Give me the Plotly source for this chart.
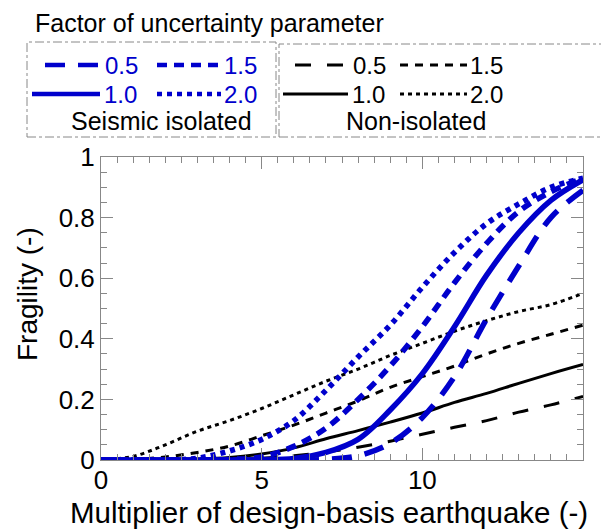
import plotly.graph_objects as go

# ---- data ----
x_vals = [0, 1, 2, 3, 4, 5, 6, 7, 8, 9, 10, 11, 12, 13, 14, 15]

iso_05 = [0, 0, 0, 0, 0, 0, 0.0, 0.002, 0.014, 0.055, 0.14, 0.275, 0.465, 0.64, 0.80, 0.89]
iso_10 = [0, 0, 0, 0, 0, 0.001, 0.005, 0.025, 0.068, 0.165, 0.285, 0.44, 0.61, 0.75, 0.857, 0.925]
iso_15 = [0, 0, 0, 0, 0.002, 0.01, 0.045, 0.105, 0.20, 0.31, 0.44, 0.585, 0.715, 0.82, 0.885, 0.93]
iso_20 = [0, 0, 0, 0.006, 0.03, 0.068, 0.13, 0.23, 0.34, 0.445, 0.57, 0.685, 0.78, 0.845, 0.90, 0.93]

non_05 = [0, 0, 0, 0, 0.002, 0.006, 0.014, 0.026, 0.042, 0.062, 0.085, 0.108, 0.13, 0.158, 0.182, 0.21]
non_10 = [0, 0, 0.001, 0.003, 0.008, 0.02, 0.04, 0.07, 0.097, 0.125, 0.155, 0.19, 0.22, 0.253, 0.285, 0.315]
non_15 = [0, 0.002, 0.01, 0.025, 0.046, 0.08, 0.115, 0.155, 0.195, 0.24, 0.275, 0.31, 0.35, 0.385, 0.415, 0.445]
non_20 = [0, 0.012, 0.05, 0.095, 0.13, 0.17, 0.215, 0.26, 0.30, 0.345, 0.385, 0.425, 0.46, 0.49, 0.513, 0.55]

x_ticks = [0, 5, 10]
x_ticktext = ["0", "5", "10"]
y_ticks = [0, 0.2, 0.4, 0.6, 0.8, 1.0]
y_ticktext = ["0", "0.2", "0.4", "0.6", "0.8", "1"]

factor_labels = ["0.5", "1.0", "1.5", "2.0"]

BLUE = "#0000CC"
BLACK = "#000000"
FONT = "Liberation Sans, Arial, sans-serif"

styles_iso = {
    "0.5": dict(color=BLUE, width=5.5, dash="20px,13px"),
    "1.0": dict(color=BLUE, width=5.5, dash="solid"),
    "1.5": dict(color=BLUE, width=5.5, dash="10px,7px"),
    "2.0": dict(color=BLUE, width=5.5, dash="5px,5px"),
}
styles_non = {
    "0.5": dict(color=BLACK, width=3, dash="16px,16px"),
    "1.0": dict(color=BLACK, width=3, dash="solid"),
    "1.5": dict(color=BLACK, width=3, dash="8px,7px"),
    "2.0": dict(color=BLACK, width=3, dash="4px,4px"),
}

fig = go.Figure()

for lab, ys in zip(factor_labels, [non_05, non_10, non_15, non_20]):
    fig.add_trace(go.Scatter(x=x_vals, y=ys, mode="lines", line=dict(shape="spline", **styles_non[lab]),
                             name=f"Non-isolated {lab}", showlegend=False))
for lab, ys in zip(factor_labels, [iso_05, iso_10, iso_15, iso_20]):
    fig.add_trace(go.Scatter(x=x_vals, y=ys, mode="lines", line=dict(shape="spline", **styles_iso[lab]),
                             name=f"Seismic isolated {lab}", showlegend=False))

W, H = 601, 529
L, R, T, B = 101, 18, 157, 69
PW, PH = W - L - R, H - T - B


def px(x):
    return (x - L) / PW


def py(y):
    return (H - B - y) / PH


shapes = []
annotations = []

# legend boxes (dash-dot grey)
box_line = dict(color="#888888", width=1, dash="dashdot")
shapes.append(dict(type="rect", xref="paper", yref="paper", x0=px(27), x1=px(276), y0=py(137), y1=py(42), line=box_line))
shapes.append(dict(type="rect", xref="paper", yref="paper", x0=px(279), x1=px(640), y0=py(137), y1=py(44), line=box_line))

ROW1, ROW2, ROW3 = 65, 94, 121
legend_entries = [
    (styles_iso["0.5"], 45, 100, ROW1, "0.5", 103, BLUE),
    (styles_iso["1.5"], 157, 221, ROW1, "1.5", 222, BLUE),
    (styles_iso["1.0"], 32, 100, ROW2, "1.0", 102, BLUE),
    (styles_iso["2.0"], 157, 221, ROW2, "2.0", 222, BLUE),
    (styles_non["0.5"], 295, 348, ROW1, "0.5", 351, BLACK),
    (styles_non["1.5"], 400, 467, ROW1, "1.5", 468, BLACK),
    (styles_non["1.0"], 283, 348, ROW2, "1.0", 350, BLACK),
    (styles_non["2.0"], 400, 467, ROW2, "2.0", 468, BLACK),
]
for st, x0, x1, yy, txt, tx, col in legend_entries:
    shapes.append(dict(type="line", xref="paper", yref="paper", x0=px(x0), x1=px(x1), y0=py(yy), y1=py(yy),
                       line=dict(color=st["color"], width=st["width"] - 1 if st["width"] > 3 else st["width"],
                                 dash=st["dash"])))
    annotations.append(dict(xref="paper", yref="paper", x=px(tx), y=py(yy), text=txt, showarrow=False,
                            xanchor="left", yanchor="middle", font=dict(family=FONT, size=24, color=col)))

annotations.append(dict(xref="paper", yref="paper", x=px(161), y=py(ROW3), text="Seismic isolated", showarrow=False,
                        xanchor="center", yanchor="middle", font=dict(family=FONT, size=25, color="black")))
annotations.append(dict(xref="paper", yref="paper", x=px(416), y=py(ROW3), text="Non-isolated", showarrow=False,
                        xanchor="center", yanchor="middle", font=dict(family=FONT, size=25, color="black")))
annotations.append(dict(xref="paper", yref="paper", x=px(209), y=py(23), text="Factor of uncertainty parameter",
                        showarrow=False, xanchor="center", yanchor="middle",
                        font=dict(family=FONT, size=25, color="black")))
# axis titles
annotations.append(dict(xref="paper", yref="paper", x=px(329), y=py(512),
                        text="Multiplier of design-basis earthquake (-)", showarrow=False,
                        xanchor="center", yanchor="middle", font=dict(family=FONT, size=29.5, color="black")))
annotations.append(dict(xref="paper", yref="paper", x=px(27), y=py(294), text="Fragility (-)", showarrow=False,
                        textangle=-90, xanchor="center", yanchor="middle",
                        font=dict(family=FONT, size=28, color="black")))

axis_common = dict(showline=True, linecolor="#888888", linewidth=1, mirror="ticks", ticks="inside",
                   tickcolor="#888888", tickwidth=1, ticklen=12, showgrid=False, zeroline=False,
                   tickfont=dict(family=FONT, size=26, color="black"))

fig.update_layout(
    width=W, height=H,
    margin=dict(l=L, r=R, t=T, b=B, pad=0),
    paper_bgcolor="white", plot_bgcolor="white",
    shapes=shapes, annotations=annotations,
    xaxis=dict(range=[0, 15], tickvals=x_ticks, ticktext=x_ticktext, ticklabelstandoff=-3,
               minor=dict(dtick=0.5, ticks="inside", ticklen=6, tickcolor="#888888", showgrid=False),
               **axis_common),
    yaxis=dict(range=[0, 1], tickvals=y_ticks, ticktext=y_ticktext,
               minor=dict(dtick=0.05, ticks="inside", ticklen=6, tickcolor="#888888", showgrid=False),
               **axis_common),
)

fig.write_html("out.html", config={"displayModeBar": False},
               post_script="document.body.style.margin='0px';document.body.style.overflow='hidden';")
